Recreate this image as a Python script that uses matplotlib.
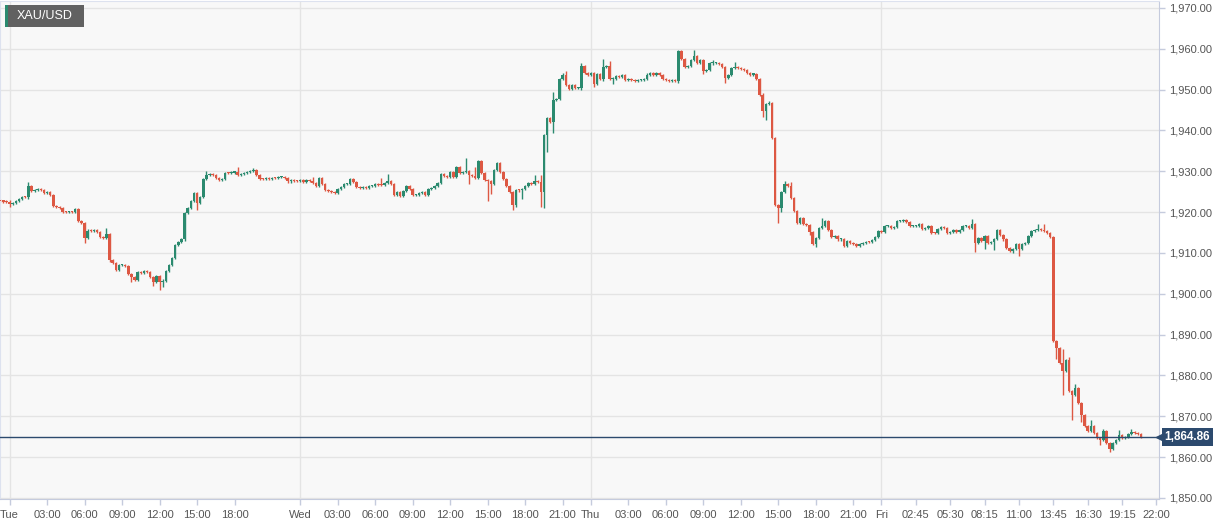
import numpy as np
import matplotlib
matplotlib.use("Agg")
import matplotlib.pyplot as plt

plt.rcParams['font.family'] = ['Liberation Sans', 'DejaVu Sans']

# 15-minute closes (one list per trading day)
tue_close = [1922.8, 1922.6, 1922.4, 1922.0, 1922.3, 1922.8, 1923.3, 1923.8, 1923.6, 1926.5,
             1925.2, 1925.4, 1925.6, 1925.5, 1924.8, 1924.9, 1924.2, 1921.6, 1921.3, 1920.9,
             1920.1, 1920.0, 1920.1, 1920.0, 1920.8, 1917.9, 1917.4, 1913.6, 1915.5, 1915.3,
             1915.6, 1915.2, 1913.8, 1913.6, 1914.6, 1908.3, 1907.5, 1905.8, 1907.0, 1907.1,
             1906.9, 1904.8, 1904.1, 1903.5, 1905.4, 1905.2, 1905.5, 1905.3, 1904.2, 1902.9,
             1904.3, 1903.0, 1903.1, 1905.5, 1907.1, 1908.8, 1912.0, 1912.6, 1913.4, 1919.8,
             1921.0, 1922.8, 1924.7, 1922.2, 1923.8, 1928.0, 1929.0, 1929.3, 1929.0, 1928.3,
             1927.8, 1928.2, 1929.6, 1929.5, 1929.7, 1929.8, 1929.0, 1929.4, 1929.5, 1929.8,
             1930.0, 1930.2, 1929.2, 1928.2, 1928.0, 1928.3, 1928.1, 1928.4, 1928.3, 1928.5,
             1928.5, 1928.4, 1927.5, 1927.8, 1927.7, 1927.6]
wed_close = [1927.9, 1927.4, 1927.8, 1927.7, 1927.2, 1926.5, 1928.3, 1927.0, 1925.4, 1925.2,
             1925.0, 1924.8, 1925.6, 1926.2, 1926.8, 1926.9, 1928.0, 1927.4, 1926.2, 1925.9,
             1926.2, 1926.0, 1926.3, 1926.4, 1926.9, 1926.7, 1926.6, 1927.2, 1927.5, 1926.8,
             1924.3, 1924.9, 1923.9, 1925.1, 1926.3, 1925.6, 1924.2, 1924.3, 1924.8, 1925.0,
             1924.2, 1925.6, 1925.8, 1926.3, 1927.1, 1929.3, 1928.8, 1928.6, 1929.8, 1928.6,
             1931.0, 1929.5, 1929.9, 1930.0, 1929.0, 1928.8, 1928.3, 1932.4, 1929.5, 1927.9,
             1927.5, 1927.0, 1930.3, 1932.0, 1929.9, 1928.0, 1926.4, 1925.0, 1921.7, 1925.4,
             1925.3, 1925.6, 1926.4, 1927.2, 1927.0, 1927.7, 1927.3, 1925.0, 1938.9, 1943.0,
             1942.0, 1947.5, 1947.7, 1952.5, 1953.7, 1951.2, 1950.2, 1951.2, 1950.3, 1950.4,
             1955.9, 1954.1, 1953.5]
thu_close = [1954.1, 1951.3, 1953.9, 1952.5, 1955.6, 1955.8, 1952.5, 1952.7, 1953.3, 1953.1,
             1953.6, 1952.3, 1952.7, 1952.3, 1952.1, 1952.3, 1952.3, 1952.7, 1953.7, 1954.0,
             1953.5, 1954.1, 1953.5, 1952.7, 1952.3, 1952.1, 1952.3, 1952.1, 1959.4, 1957.4,
             1955.6, 1955.8, 1957.2, 1958.2, 1956.6, 1957.2, 1954.5, 1954.8, 1956.4, 1956.6,
             1956.6, 1956.2, 1955.6, 1952.9, 1953.5, 1955.3, 1955.6, 1955.3, 1955.1, 1954.9,
             1954.1, 1953.7, 1953.9, 1952.5, 1948.8, 1944.7, 1946.4, 1946.8, 1938.2, 1921.7,
             1921.1, 1924.9, 1926.8, 1926.5, 1923.5, 1920.2, 1917.4, 1918.6, 1917.0, 1916.8,
             1915.1, 1912.3, 1913.7, 1916.2, 1916.6, 1917.8, 1915.6, 1914.0, 1914.1, 1913.3,
             1913.5, 1911.8, 1912.9, 1912.5, 1912.3, 1911.8, 1912.1, 1912.5, 1912.8, 1912.7,
             1913.1, 1913.9, 1915.3]
fri_close = [1915.1, 1916.6, 1916.6, 1916.2, 1916.4, 1917.8, 1917.8, 1918.0, 1917.6, 1916.6,
             1916.7, 1916.7, 1917.0, 1915.9, 1916.2, 1916.6, 1914.9, 1914.8, 1915.8, 1916.4,
             1916.2, 1914.8, 1915.1, 1915.6, 1915.1, 1915.6, 1916.6, 1916.7, 1916.2, 1917.2,
             1912.5, 1913.7, 1912.9, 1914.1, 1912.5, 1912.7, 1913.5, 1915.6, 1914.3, 1913.3,
             1911.3, 1910.4, 1911.0, 1912.1, 1910.9, 1912.1, 1912.5, 1914.1, 1915.3, 1915.6,
             1915.9, 1915.6, 1915.3, 1914.8, 1914.0, 1888.4, 1886.8, 1883.1, 1881.1, 1883.9,
             1876.2, 1875.3, 1877.0, 1873.3, 1870.4, 1867.6, 1866.4, 1867.6, 1866.0, 1864.7,
             1864.3, 1866.4, 1863.5, 1861.9, 1863.5, 1864.3, 1865.3, 1864.8, 1864.9, 1865.6,
             1866.1, 1866.0, 1865.6, 1864.86]
first_open = 1922.9

# visible long wicks: candle index -> (high, low)
long_wicks = {
    3: (1922.9, 1921.2), 9: (1927.3, 1923.3), 25: (1921.0, 1917.5), 27: (1917.6, 1912.5),
    34: (1916.0, 1913.3), 35: (1914.8, 1907.8), 42: (1904.9, 1902.9), 49: (1904.3, 1902.0),
    51: (1904.4, 1901.0), 52: (1903.6, 1901.6), 59: (1919.9, 1913.0), 63: (1924.9, 1920.6),
    66: (1930.1, 1927.8), 76: (1931.1, 1928.8), 81: (1930.8, 1929.8),
    100: (1928.7, 1927.0), 122: (1928.3, 1926.4), 124: (1929.3, 1927.1), 149: (1933.2, 1929.6),
    150: (1930.2, 1927.0), 152: (1931.1, 1928.0), 156: (1928.2, 1922.8), 157: (1927.6, 1924.5),
    164: (1925.2, 1920.5), 165: (1925.6, 1921.3), 167: (1926.0, 1923.2), 171: (1929.2, 1926.9),
    173: (1929.1, 1921.3), 174: (1939.0, 1921.1), 175: (1943.3, 1934.8), 177: (1949.5, 1939.3),
    181: (1954.5, 1950.8), 186: (1956.4, 1950.0),
    190: (1954.3, 1950.7), 193: (1957.6, 1952.2), 195: (1957.0, 1952.3), 196: (1953.0, 1951.3),
    217: (1959.8, 1951.5), 222: (1959.8, 1957.0), 225: (1957.4, 1953.8), 228: (1957.2, 1956.2),
    232: (1955.9, 1951.7), 235: (1956.7, 1955.2), 244: (1948.9, 1943.3), 245: (1946.7, 1942.5),
    246: (1947.2, 1946.2), 249: (1922.0, 1917.4), 250: (1925.1, 1920.0), 251: (1927.6, 1924.6),
    253: (1927.3, 1923.3), 259: (1917.0, 1914.3), 261: (1914.0, 1911.5), 262: (1916.4, 1913.5),
    263: (1918.6, 1916.0),
    311: (1918.4, 1916.0), 312: (1917.2, 1910.3), 315: (1914.3, 1911.0), 318: (1913.6, 1910.7),
    324: (1911.2, 1910.0), 326: (1912.3, 1909.2), 332: (1917.0, 1915.4), 334: (1917.0, 1915.1),
    338: (1888.6, 1884.0), 339: (1887.0, 1882.7), 340: (1886.4, 1875.3), 342: (1884.6, 1876.0),
    343: (1876.5, 1869.2), 344: (1878.0, 1875.1), 346: (1873.5, 1868.5), 349: (1869.2, 1866.2),
    352: (1864.9, 1862.9), 353: (1866.8, 1864.1), 355: (1863.7, 1861.3), 358: (1866.6, 1864.1),
    362: (1866.9, 1865.5),
}

tick_pos = [3, 15, 27, 39, 51, 63, 75, 96, 108, 120, 132, 144, 156, 168, 180,
            189, 201, 213, 225, 237, 249, 261, 273, 282, 293, 304, 315, 326, 337, 348, 359, 370]
tick_labels = ['Tue', '03:00', '06:00', '09:00', '12:00', '15:00', '18:00',
               'Wed', '03:00', '06:00', '09:00', '12:00', '15:00', '18:00', '21:00',
               'Thu', '03:00', '06:00', '09:00', '12:00', '15:00', '18:00', '21:00',
               'Fri', '02:45', '05:30', '08:15', '11:00', '13:45', '16:30', '19:15', '22:00']
day_lines = [3, 96, 189, 282]
last_price = 1864.86

close = np.array(tue_close + wed_close + thu_close + fri_close)
open_ = np.concatenate([[first_open], close[:-1]])
idx = np.arange(len(close))
hi = np.maximum(open_, close) + 0.25
lo = np.minimum(open_, close) - 0.25
for k, (h, l) in long_wicks.items():
    hi[k] = max(h, hi[k])
    lo[k] = min(l, lo[k])

UP, DOWN = '#2b8a6f', '#dd5843'
colors = np.where(close >= open_, UP, DOWN)

fig = plt.figure(figsize=(12.29, 5.27), dpi=100)
ax = fig.add_axes([0, 28 / 527, 1159 / 1229, 498 / 527])
ax.set_facecolor('#f8f8f8')

for y in range(1850, 1971, 10):
    ax.axhline(y, color='#e4e4e4', lw=1, zorder=0)
for d in day_lines:
    ax.axvline(d, color='#e4e4e4', lw=1, zorder=0)

ax.vlines(idx, lo, hi, colors=colors, lw=1, zorder=2)
body_bottom = np.minimum(open_, close)
body_h = np.maximum(np.abs(close - open_), 0.25)
ax.bar(idx, body_h, bottom=body_bottom, width=0.8, color=colors, lw=0, zorder=3)

ax.axhline(last_price, color='#2c4a6e', lw=1, zorder=4)

ax.set_xlim(-0.04, 370.8)
ax.set_ylim(1849.75, 1971.7)

ax.yaxis.tick_right()
ax.set_yticks(range(1850, 1971, 10))
ax.set_yticklabels([f'{v:,.2f}' for v in range(1850, 1971, 10)])
ax.set_xticks(tick_pos)
ax.set_xticklabels(tick_labels)
ax.tick_params(axis='both', colors='#c5cbdd', labelcolor='#555555', labelsize=8, length=4, width=1)
ax.tick_params(axis='y', pad=3)
ax.tick_params(axis='x', pad=4)

for side in ['left', 'top']:
    ax.spines[side].set_color('#dde2ef')
for side in ['right', 'bottom']:
    ax.spines[side].set_color('#c5cbdd')

# price tag on the right axis
ax.annotate(f'{last_price:,.2f}', xy=(1.0, last_price), xycoords=('axes fraction', 'data'),
            xytext=(4, 0), textcoords='offset points', ha='left', va='center',
            fontsize=8.5, fontweight='bold', color='white', annotation_clip=False,
            bbox=dict(boxstyle='square,pad=0.25', fc='#2c4a6e', ec='none'))
ax.plot([1.0], [last_price], marker='<', ms=5, color='#2c4a6e', transform=ax.get_yaxis_transform(),
        clip_on=False, zorder=5)

# symbol label top-left
fig.patches.append(plt.Rectangle((5 / 1229, 1 - 27 / 527), 79 / 1229, 22 / 527,
                                 transform=fig.transFigure, fc='#616161', ec='none', zorder=10))
fig.patches.append(plt.Rectangle((5 / 1229, 1 - 27 / 527), 2.5 / 1229, 22 / 527,
                                 transform=fig.transFigure, fc='#2b8a6f', ec='none', zorder=11))
fig.text(17 / 1229, 1 - 16 / 527, 'XAU/USD', color='white', fontsize=9, va='center', ha='left', zorder=12)

fig.savefig('out.png', dpi=100, facecolor='white')
